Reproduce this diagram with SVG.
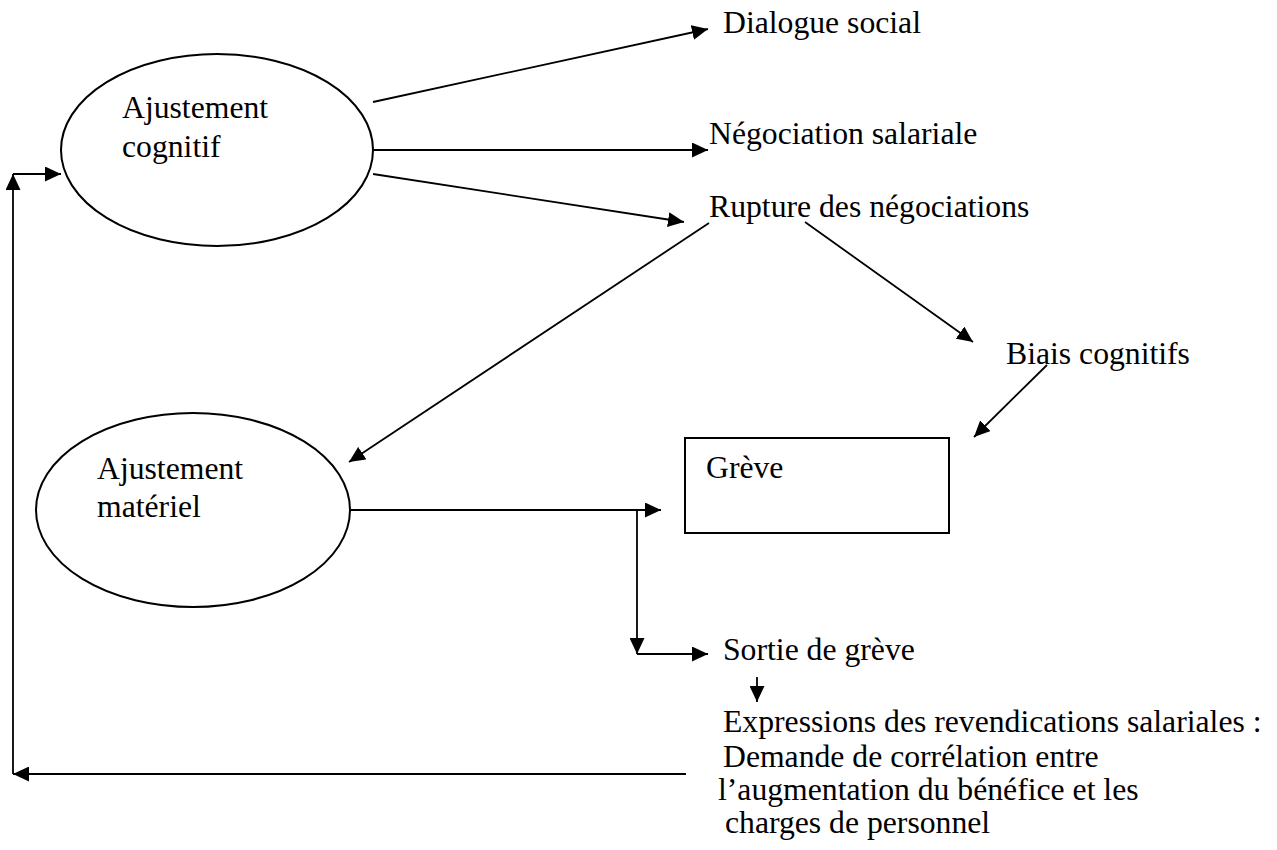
<svg xmlns="http://www.w3.org/2000/svg" width="1277" height="850" viewBox="0 0 1277 850">
<style>
text{font-family:"Liberation Serif","Times New Roman",serif;font-size:31.7px;fill:#000}
.shape{fill:none;stroke:#000;stroke-width:2}
.ln{fill:none;stroke:#000;stroke-width:1.8}
</style>
<defs>
<marker id="ah" markerUnits="userSpaceOnUse" markerWidth="16" markerHeight="15" refX="16" refY="7.5" orient="auto">
<path d="M0,0 L16,7.5 L0,15 z" fill="#000"/>
</marker>
</defs>
<rect width="1277" height="850" fill="#fff"/>
<g id="connectors">
<line class="ln" x1="373" y1="102" x2="708" y2="29" marker-end="url(#ah)"/>
<line class="ln" x1="373" y1="150" x2="708" y2="150" marker-end="url(#ah)"/>
<line class="ln" x1="373" y1="174" x2="684" y2="222" marker-end="url(#ah)"/>
<line class="ln" x1="709" y1="223" x2="349" y2="462" marker-end="url(#ah)"/>
<line class="ln" x1="805" y1="222" x2="973" y2="342" marker-end="url(#ah)"/>
<line class="ln" x1="1047" y1="365" x2="974" y2="437" marker-end="url(#ah)"/>
<line class="ln" x1="350" y1="510" x2="661" y2="510" marker-end="url(#ah)"/>
<line class="ln" x1="637" y1="510" x2="637" y2="654" marker-end="url(#ah)"/>
<line class="ln" x1="637" y1="654" x2="708" y2="654" marker-end="url(#ah)"/>
<line class="ln" x1="757" y1="677" x2="757" y2="702" marker-end="url(#ah)"/>
<line class="ln" x1="686" y1="774" x2="13" y2="774" marker-end="url(#ah)"/>
<line class="ln" x1="13" y1="774" x2="13" y2="174" marker-end="url(#ah)"/>
<line class="ln" x1="13" y1="174" x2="61" y2="174" marker-end="url(#ah)"/>
</g>
<g id="ajustement-cognitif">
<ellipse class="shape" cx="217" cy="150" rx="156" ry="96"/>
<text x="122" y="118">Ajustement</text>
<text x="122" y="157">cognitif</text>
</g>
<g id="ajustement-materiel">
<ellipse class="shape" cx="193" cy="510" rx="157" ry="97"/>
<text x="97" y="479">Ajustement</text>
<text x="97" y="517">matériel</text>
</g>
<g id="dialogue-social"><text x="723" y="33">Dialogue social</text></g>
<g id="negociation-salariale"><text x="709" y="144">Négociation salariale</text></g>
<g id="rupture"><text x="709" y="217">Rupture des négociations</text></g>
<g id="biais-cognitifs"><text x="1006" y="364">Biais cognitifs</text></g>
<g id="greve">
<rect class="shape" x="685" y="438" width="264" height="95"/>
<text x="706" y="478">Grève</text>
</g>
<g id="sortie-de-greve"><text x="723" y="660">Sortie de grève</text></g>
<g id="expressions">
<text x="723" y="732">Expressions des revendications salariales :</text>
<text x="723" y="767">Demande de corrélation entre</text>
<text x="718" y="800">l’augmentation du bénéfice et les</text>
<text x="725" y="833">charges de personnel</text>
</g>
</svg>
